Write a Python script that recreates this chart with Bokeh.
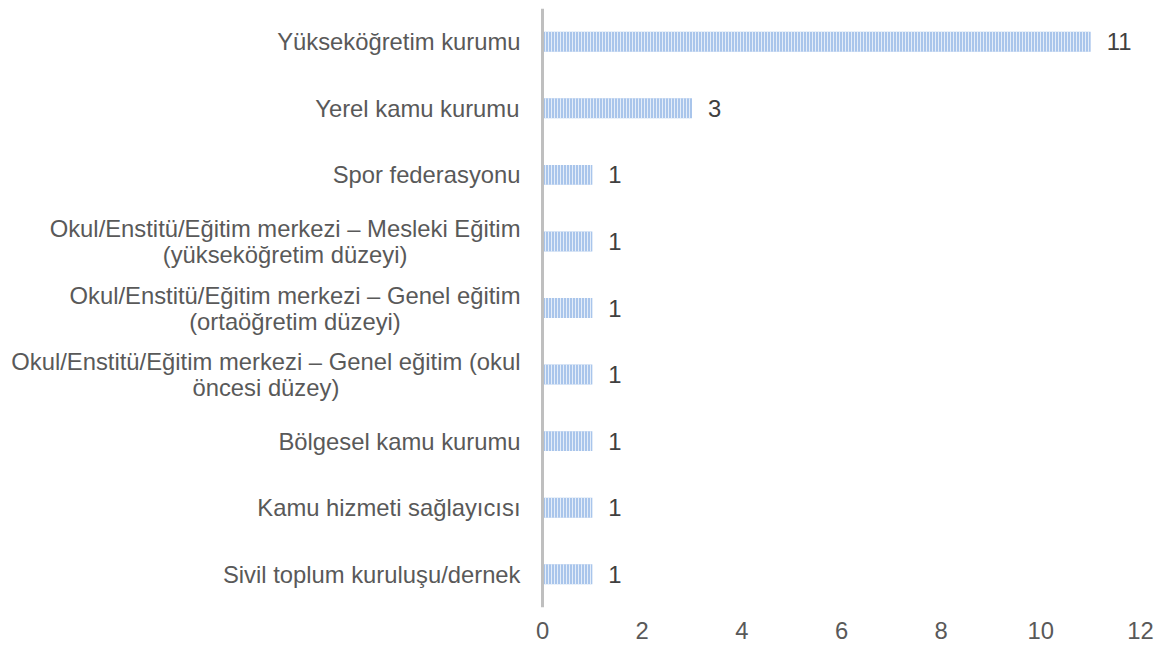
from bokeh.plotting import figure
from bokeh.models import ColumnDataSource, FactorRange, Range1d, FixedTicker, Span
from bokeh.core.properties import value
from bokeh.embed import file_html
from bokeh.resources import INLINE

categories = [
    "Yükseköğretim kurumu",
    "Yerel kamu kurumu",
    "Spor federasyonu",
    "Okul/Enstitü/Eğitim merkezi – Mesleki Eğitim\n(yükseköğretim düzeyi)",
    "Okul/Enstitü/Eğitim merkezi – Genel eğitim\n(ortaöğretim düzeyi)",
    "Okul/Enstitü/Eğitim merkezi – Genel eğitim (okul\nöncesi düzey)",
    "Bölgesel kamu kurumu",
    "Kamu hizmeti sağlayıcısı",
    "Sivil toplum kuruluşu/dernek",
]
counts = [11, 3, 1, 1, 1, 1, 1, 1, 1]
x_ticks = [0, 2, 4, 6, 8, 10, 12]

FONT = "Liberation Sans"
FS_PX = 23.8
FS = f"{FS_PX}px"
LABEL_GAP = 22     # px between category text and the axis line
LINE_PITCH = 26    # px between wrapped label lines

W, H = 1157, 648
BORDER_RIGHT = 17
AXIS_PX = 542                      # pixel position of value 0 inside the canvas
X_MAX = 12
PPU = (W - BORDER_RIGHT - AXIS_PX) / X_MAX   # pixels per unit

# Arial / Liberation Sans advance widths (units per 1000 em) for measuring label blocks
_W = {" ": 278, "/": 278, "(": 333, ")": 333, "–": 556,
      "B": 667, "E": 667, "G": 778, "K": 667, "M": 833, "O": 778, "S": 667, "Y": 667,
      "a": 556, "b": 556, "c": 500, "d": 556, "e": 556, "f": 278, "g": 556, "h": 556,
      "i": 222, "k": 500, "l": 222, "m": 833, "n": 556, "o": 556, "p": 556, "r": 333,
      "s": 500, "t": 278, "u": 556, "v": 500, "y": 500, "z": 500,
      "ü": 556, "ö": 556, "ğ": 556, "ı": 278, "ş": 500, "ç": 500}


def text_width(s):
    return sum(_W.get(ch, 556) for ch in s) * FS_PX / 1000.0


# one row per printed line of each category label, centred within its block
lab_y, lab_x, lab_text, lab_dy = [], [], [], []
for cat in categories:
    lines = cat.split("\n")
    block = max(text_width(ln) for ln in lines)
    n = len(lines)
    for i, ln in enumerate(lines):
        lab_y.append(cat)
        lab_text.append(ln)
        lab_x.append(-(LABEL_GAP + block / 2.0) / PPU)
        lab_dy.append((i - (n - 1) / 2.0) * LINE_PITCH)

source = ColumnDataSource(dict(cat=categories, count=counts, label=[str(c) for c in counts]))
lab_source = ColumnDataSource(dict(y=lab_y, x=lab_x, text=lab_text, dy=lab_dy))

p = figure(
    width=W, height=H,
    y_range=FactorRange(*reversed(categories), range_padding=0),
    x_range=Range1d(-AXIS_PX / PPU, X_MAX),
    output_backend="svg", toolbar_location=None,
    min_border_left=0, min_border_right=BORDER_RIGHT, min_border_top=8, min_border_bottom=41,
)
p.outline_line_color = None
p.xgrid.visible = False
p.ygrid.visible = False
p.yaxis.visible = False
p.background_fill_color = "white"
p.border_fill_color = "white"

p.hbar(y="cat", right="count", left=0, height=0.3, source=source,
       fill_color="#A9C5EB", line_color=None,
       hatch_pattern="vertical_line", hatch_color="#E4EDF9",
       hatch_scale=3, hatch_weight=1)

# vertical category axis line at value 0
p.add_layout(Span(location=0, dimension="height", line_color="#BFBFBF", line_width=3))

# value labels
p.text(x="count", y="cat", text="label", source=source,
       x_offset=16, text_align="left", text_baseline="middle",
       text_font=value(FONT), text_font_size=FS, text_color="#404040")

# category labels (wrapped lines centred within each block)
p.text(x="x", y="y", text="text", source=lab_source,
       y_offset="dy", text_align="center", text_baseline="middle",
       text_font=value(FONT), text_font_size=FS, text_color="#595959")

xa = p.xaxis[0]
xa.ticker = FixedTicker(ticks=x_ticks)
xa.axis_line_color = None
xa.major_tick_out = 0
xa.major_tick_in = 0
xa.minor_tick_out = 0
xa.minor_tick_in = 0
xa.major_label_standoff = 14
xa.major_label_text_font = FONT
xa.major_label_text_font_size = FS
xa.major_label_text_color = "#595959"

open("out.html", "w").write(file_html(p, INLINE))
